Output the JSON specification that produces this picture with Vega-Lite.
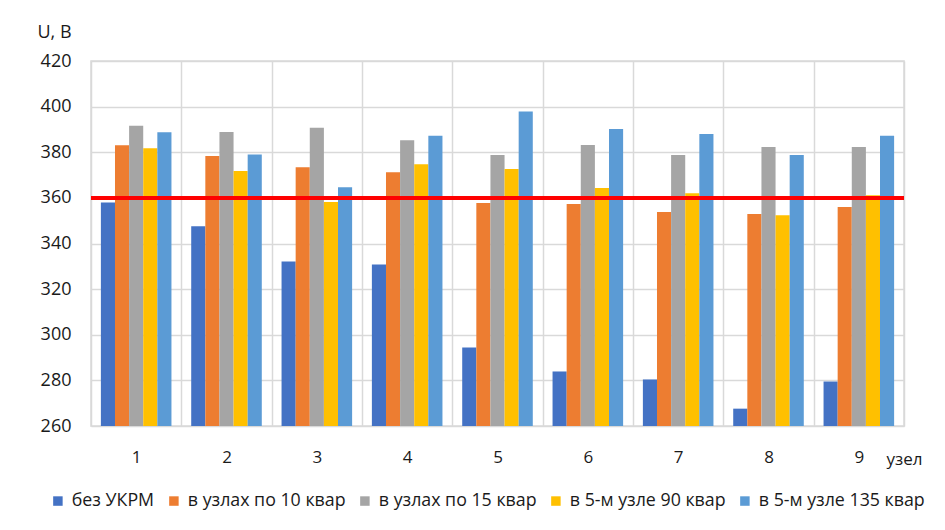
{
  "$schema": "https://vega.github.io/schema/vega-lite/v6.json",
  "autosize": {"type": "none"},
  "width": 813,
  "height": 365,
  "padding": {"left": 91, "top": 61, "right": 41, "bottom": 104},
  "background": "white",
  "config": {
    "font": "Open Sans",
    "view": {"stroke": "#d9d9d9", "strokeWidth": 1.5},
    "axis": {
      "labelFont": "Open Sans",
      "titleFont": "Open Sans",
      "labelColor": "#1a1a1a",
      "titleColor": "#1a1a1a",
      "domain": false,
      "ticks": false,
      "gridColor": "#d9d9d9",
      "gridWidth": 1.5
    },
    "legend": {"labelFont": "Open Sans"}
  },
  "data": {
    "values": [
      {"node": "1", "series": "без УКРМ", "U": 358.0},
      {"node": "1", "series": "в узлах по 10 квар", "U": 383.1},
      {"node": "1", "series": "в узлах по 15 квар", "U": 391.6},
      {"node": "1", "series": "в 5-м узле 90 квар", "U": 381.8},
      {"node": "1", "series": "в 5-м узле 135 квар", "U": 388.8},
      {"node": "2", "series": "без УКРМ", "U": 347.6},
      {"node": "2", "series": "в узлах по 10 квар", "U": 378.4},
      {"node": "2", "series": "в узлах по 15 квар", "U": 388.9},
      {"node": "2", "series": "в 5-м узле 90 квар", "U": 371.8},
      {"node": "2", "series": "в 5-м узле 135 квар", "U": 379.0},
      {"node": "3", "series": "без УКРМ", "U": 332.1},
      {"node": "3", "series": "в узлах по 10 квар", "U": 373.4},
      {"node": "3", "series": "в узлах по 15 квар", "U": 390.7},
      {"node": "3", "series": "в 5-м узле 90 квар", "U": 358.2},
      {"node": "3", "series": "в 5-м узле 135 квар", "U": 364.7},
      {"node": "4", "series": "без УКРМ", "U": 330.8},
      {"node": "4", "series": "в узлах по 10 квар", "U": 371.2},
      {"node": "4", "series": "в узлах по 15 квар", "U": 385.3},
      {"node": "4", "series": "в 5-м узле 90 квар", "U": 374.7},
      {"node": "4", "series": "в 5-м узле 135 квар", "U": 387.2},
      {"node": "5", "series": "без УКРМ", "U": 294.4},
      {"node": "5", "series": "в узлах по 10 квар", "U": 357.8},
      {"node": "5", "series": "в узлах по 15 квар", "U": 378.8},
      {"node": "5", "series": "в 5-м узле 90 квар", "U": 372.7},
      {"node": "5", "series": "в 5-м узле 135 квар", "U": 397.9},
      {"node": "6", "series": "без УКРМ", "U": 283.9},
      {"node": "6", "series": "в узлах по 10 квар", "U": 357.3},
      {"node": "6", "series": "в узлах по 15 квар", "U": 383.2},
      {"node": "6", "series": "в 5-м узле 90 квар", "U": 364.3},
      {"node": "6", "series": "в 5-м узле 135 квар", "U": 390.2},
      {"node": "7", "series": "без УКРМ", "U": 280.4},
      {"node": "7", "series": "в узлах по 10 квар", "U": 353.8},
      {"node": "7", "series": "в узлах по 15 квар", "U": 378.8},
      {"node": "7", "series": "в 5-м узле 90 квар", "U": 362.0},
      {"node": "7", "series": "в 5-м узле 135 квар", "U": 388.0},
      {"node": "8", "series": "без УКРМ", "U": 267.6},
      {"node": "8", "series": "в узлах по 10 квар", "U": 352.9},
      {"node": "8", "series": "в узлах по 15 квар", "U": 382.3},
      {"node": "8", "series": "в 5-м узле 90 квар", "U": 352.4},
      {"node": "8", "series": "в 5-м узле 135 квар", "U": 378.8},
      {"node": "9", "series": "без УКРМ", "U": 279.5},
      {"node": "9", "series": "в узлах по 10 квар", "U": 356.0},
      {"node": "9", "series": "в узлах по 15 квар", "U": 382.3},
      {"node": "9", "series": "в 5-м узле 90 квар", "U": 361.1},
      {"node": "9", "series": "в 5-м узле 135 квар", "U": 387.2}
    ]
  },
  "layer": [
    {
      "mark": {"type": "bar"},
      "encoding": {
        "x": {
          "field": "node",
          "type": "nominal",
          "scale": {"paddingInner": 0, "paddingOuter": 0},
          "axis": {
            "title": "узел",
            "titleFontSize": 17,
            "titleFontWeight": "normal",
            "titleAlign": "left",
            "titleBaseline": "alphabetic",
            "titleAnchor": "start",
            "titleX": 795,
            "titleY": 38,
            "labelAngle": 0,
            "labelFontSize": 17,
            "labelPadding": 23,
            "tickBand": "extent",
            "grid": true
          }
        },
        "xOffset": {
          "field": "series",
          "type": "nominal",
          "sort": ["без УКРМ", "в узлах по 10 квар", "в узлах по 15 квар", "в 5-м узле 90 квар", "в 5-м узле 135 квар"],
          "scale": {"paddingInner": 0, "paddingOuter": 0.7}
        },
        "y": {
          "field": "U",
          "type": "quantitative",
          "scale": {"domain": [260, 420], "zero": false, "nice": false},
          "axis": {
            "values": [260, 280, 300, 320, 340, 360, 380, 400, 420],
            "title": "U, В",
            "titleAngle": 0,
            "titleFontSize": 18,
            "titleFontWeight": "normal",
            "titleAlign": "left",
            "titleBaseline": "alphabetic",
            "titleAnchor": "start",
            "titleX": -54,
            "titleY": -24,
            "labelFontSize": 18,
            "labelPadding": 20
          }
        },
        "y2": {"datum": 260},
        "color": {
          "field": "series",
          "type": "nominal",
          "sort": ["без УКРМ", "в узлах по 10 квар", "в узлах по 15 квар", "в 5-м узле 90 квар", "в 5-м узле 135 квар"],
          "scale": {
            "domain": ["без УКРМ", "в узлах по 10 квар", "в узлах по 15 квар", "в 5-м узле 90 квар", "в 5-м узле 135 квар"],
            "range": ["#4472C4", "#ED7D31", "#A5A5A5", "#FFC000", "#5B9BD5"]
          },
          "legend": {
            "title": null,
            "orient": "none",
            "direction": "horizontal",
            "padding": 0,
            "legendX": -42,
            "legendY": 431,
            "symbolType": "square",
            "symbolSize": 90,
            "symbolStrokeWidth": 0,
            "labelFontSize": 17.8,
            "labelLimit": 300,
            "labelColor": "#1a1a1a",
            "labelOffset": 5,
            "columnPadding": 10
          }
        }
      }
    },
    {
      "mark": {"type": "rule", "color": "#FF0000", "strokeWidth": 3.5},
      "encoding": {"y": {"datum": 360}}
    }
  ]
}
